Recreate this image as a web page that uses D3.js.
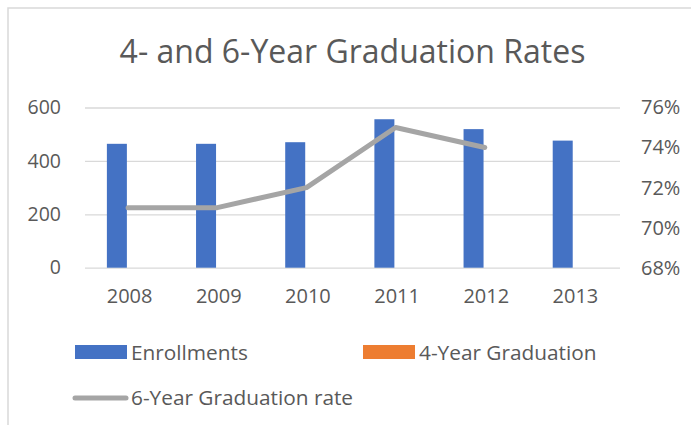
<!DOCTYPE html>
<html>
<head>
<meta charset="utf-8">
<script src="https://cdn.jsdelivr.net/npm/d3@7"></script>
<style>
    html, body { margin: 0; padding: 0; background: #ffffff; }
    svg text { font-family: 'Open Sans', sans-serif; fill: #595959; }
</style>
</head>
<body>
<svg id="chart" width="691" height="425"></svg>
<script>
// Data
var years = ['2008', '2009', '2010', '2011', '2012', '2013'];
var enrollments = [464, 464, 470, 556, 519, 476];
var fourYearGrad = [null, null, null, null, null, null];
var sixYearGrad = [0.71, 0.71, 0.72, 0.75, 0.74, null];
var leftTicks = [0, 200, 400, 600];
var rightTicks = [0.68, 0.70, 0.72, 0.74, 0.76];
var seriesNames = ['Enrollments', '4-Year Graduation'];

var colours = d3.scaleOrdinal().domain(seriesNames).range(['#4472C4', '#ED7D31']);

var svg = d3.select('#chart');

// chart frame (only top + left visible)
svg.append('path')
    .attr('d', 'M8,430 L8,8 L700,8')
    .attr('fill', 'none')
    .attr('stroke', '#d9d9d9')
    .attr('stroke-width', 1.5);

// title
svg.append('text')
    .attr('x', 352.5)
    .attr('y', 63)
    .attr('text-anchor', 'middle')
    .attr('font-size', '32px')
    .text('4- and 6-Year Graduation Rates');

// scales
var x = d3.scaleBand().domain(years).range([85, 620]);
var x1 = d3.scaleBand().domain(seriesNames).range([-22.7, 17.3]);
var yLeft = d3.scaleLinear().domain([0, 600]).range([267.7, 107.5]);
var yRight = d3.scaleLinear().domain([0.68, 0.76]).range([267.7, 107.5]);

var styleTicks = function(g, size) {
    g.select('.domain').remove();
    g.selectAll('.tick text').attr('font-size', size).attr('fill', '#595959')
        .attr('font-family', 'Open Sans');
};

// gridlines + left axis
svg.append('g')
    .attr('class', 'y axis')
    .attr('transform', 'translate(85,0)')
    .call(d3.axisLeft(yLeft).tickValues(leftTicks).tickSizeInner(-535).tickSizeOuter(0).tickPadding(24))
    .call(styleTicks, '19.5px')
    .call(function(g) {
        g.selectAll('.tick line').attr('stroke', '#d9d9d9').attr('stroke-width', 1.3);
    });

// right axis
svg.append('g')
    .attr('class', 'y2 axis')
    .attr('transform', 'translate(620,0)')
    .call(d3.axisRight(yRight).tickValues(rightTicks).tickSize(0).tickPadding(21).tickFormat(d3.format('.0%')))
    .call(styleTicks, '20px');

// x axis labels
svg.append('g')
    .attr('class', 'x axis')
    .attr('transform', 'translate(0,267.7)')
    .call(d3.axisBottom(x).tickSize(0).tickPadding(21))
    .call(styleTicks, '20px');

// bars
var barData = [];
for (var i = 0; i < years.length; i++) {
    barData.push({ year: years[i], series: 'Enrollments', value: enrollments[i] });
    barData.push({ year: years[i], series: '4-Year Graduation', value: fourYearGrad[i] });
}

svg.append('g').selectAll('.bar')
    .data(barData.filter(function(d) { return d.value != null; }))
    .enter()
    .append('rect')
    .attr('class', 'bar')
    .attr('x', function(d) { return x(d.year) + x.bandwidth() / 2 + x1(d.series); })
    .attr('y', function(d) { return yLeft(d.value); })
    .attr('width', x1.bandwidth())
    .attr('height', function(d) { return yLeft(0) - yLeft(d.value); })
    .attr('fill', function(d) { return colours(d.series); });

// 6-year line
var line = d3.line()
    .defined(function(d) { return d[1] != null; })
    .x(function(d) { return x(d[0]) + x.bandwidth() / 2 - 1.5; })
    .y(function(d) { return yRight(d[1]); });

svg.append('path')
    .datum(years.map(function(y, i) { return [y, sixYearGrad[i]]; }))
    .attr('d', line)
    .attr('fill', 'none')
    .attr('stroke', '#A5A5A5')
    .attr('stroke-width', 5)
    .attr('stroke-linecap', 'round')
    .attr('stroke-linejoin', 'round');

// legend
var legend = svg.append('g').attr('class', 'legend');

legend.append('rect').attr('x', 75).attr('y', 345).attr('width', 52).attr('height', 14)
    .attr('fill', colours('Enrollments'));
legend.append('text').attr('x', 131).attr('y', 359.5).attr('font-size', '20.8px').text('Enrollments');

legend.append('rect').attr('x', 363).attr('y', 345).attr('width', 52).attr('height', 14)
    .attr('fill', colours('4-Year Graduation'));
legend.append('text').attr('x', 419).attr('y', 359.5).attr('font-size', '20.8px').text('4-Year Graduation');

legend.append('line').attr('x1', 75).attr('x2', 126).attr('y1', 398).attr('y2', 398)
    .attr('stroke', '#A5A5A5').attr('stroke-width', 5).attr('stroke-linecap', 'round');
legend.append('text').attr('x', 131).attr('y', 404.5).attr('font-size', '20.8px').text('6-Year Graduation rate');
</script>
</body>
</html>
